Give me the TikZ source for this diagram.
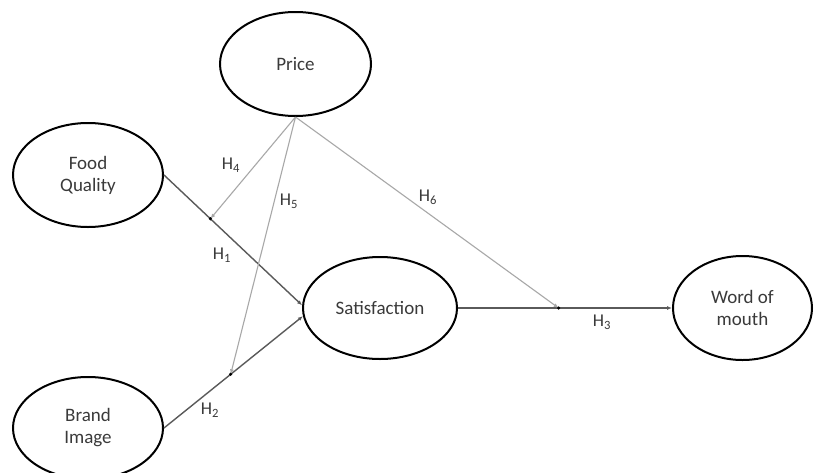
\documentclass[tikz,border=0pt]{standalone}
\usepackage{fontspec}
\setmainfont{Carlito}
\usetikzlibrary{shapes.geometric,arrows.meta}
\definecolor{txt}{HTML}{3A3A3A}
\definecolor{darkln}{HTML}{5A5A5A}
\definecolor{lightln}{HTML}{A8A8A8}
\tikzset{
  construct/.style={ellipse, draw=black, line width=2pt, inner sep=0pt, align=center,
    text=txt, font=\fontsize{19}{22}\selectfont},
  hlabel/.style={text=txt, font=\fontsize{18}{20}\selectfont, inner sep=0pt},
  mainpath/.style={draw=darkln, line width=1.4pt, -{Latex[length=5pt,width=4pt]}},
  modpath/.style={draw=lightln, line width=1.1pt, -{Latex[length=5pt,width=4pt]}},
  moddot/.style={circle, fill=black, inner sep=0pt, minimum size=3.5pt}
}
\begin{document}
\begin{tikzpicture}[x=1pt,y=-1pt]
\useasboundingbox (0,0) rectangle (814,472);
\clip (0,0) rectangle (814,472);
\fill[white] (0,0) rectangle (814,472);

\node[construct, minimum width=151pt, minimum height=104pt] (price) at (295.5,64) {Price};
\node[construct, minimum width=150pt, minimum height=104pt] (fq) at (88,175) {Food\\Quality};
\node[construct, minimum width=150pt, minimum height=102pt] (bi) at (88,428) {Brand\\Image};
\node[construct, minimum width=154pt, minimum height=102pt] (sat) at (380,308) {Satisfaction};
\node[construct, minimum width=139pt, minimum height=104pt] (wom) at (742.5,308) {Word of\\mouth};

\draw[mainpath] (fq.east) -- coordinate[pos=0.336] (m1) (sat.178);
\draw[mainpath] (bi.east) -- coordinate[pos=0.48] (m2) (sat.186);
\draw[mainpath] (sat.east) -- coordinate[pos=0.47] (m3) (wom.west);

\draw[modpath] (price.south) -- (m1);
\draw[modpath] (price.south) -- (m2);
\draw[modpath] (price.south) -- (m3);

\node[moddot] (d1) at (m1) {};
\node[moddot] (d2) at (m2) {};
\node[moddot] (d3) at (m3) {};

\node[hlabel] (h1) at (222,255) {H\textsubscript{1}};
\node[hlabel] (h2) at (210,410) {H\textsubscript{2}};
\node[hlabel] (h3) at (602,322) {H\textsubscript{3}};
\node[hlabel] (h4) at (231,165) {H\textsubscript{4}};
\node[hlabel] (h5) at (289,201) {H\textsubscript{5}};
\node[hlabel] (h6) at (428,197) {H\textsubscript{6}};
\end{tikzpicture}
\end{document}
